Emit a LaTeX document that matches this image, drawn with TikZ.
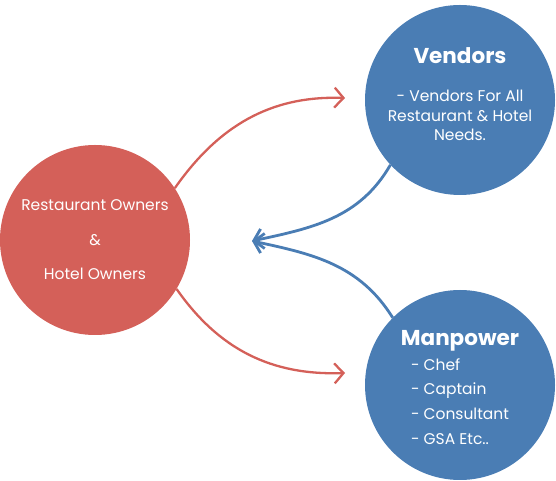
\documentclass[tikz,border=0pt]{standalone}
\usepackage{fontspec}
\setmainfont{Poppins}
\usetikzlibrary{arrows.meta}
\definecolor{ownerred}{RGB}{212,96,89}
\definecolor{vendorblue}{RGB}{74,125,180}

\begin{document}
\begin{tikzpicture}[x=1pt, y=1pt,
            bubble/.style={circle, minimum size=190pt, inner sep=0pt, text=white, align=center, font=\fontsize{15.5}{19.5}\selectfont},
            redarrow/.style={-{Straight Barb[length=9pt, width=20pt]}, line width=2.3pt, ownerred},
            bluearrow/.style={-{Straight Barb[length=9pt, width=20pt]}, line width=2.8pt, vendorblue}
        ]
            \useasboundingbox (0,0) rectangle (556,481);
            \node (owners) [bubble, fill=ownerred, font=\fontsize{15.5}{34.5}\selectfont] at (95,241) {Restaurant Owners\\ \&\\ Hotel Owners};
            \node (vendors) [bubble, fill=vendorblue, text depth=12pt] at (460,381) {{\fontsize{21.5}{24}\selectfont\bfseries Vendors}\\[19pt] - Vendors For All\\ Restaurant \& Hotel\\ Needs.};
            \node (manpower) [bubble, fill=vendorblue, font=\fontsize{15.5}{24.7}\selectfont, text depth=34pt] at (460,96) {{\fontsize{21.5}{24}\selectfont\bfseries Manpower}\\[1pt] \begin{tabular}{@{}l@{}}- Chef\\ - Captain\\ - Consultant\\ - GSA Etc..\end{tabular}};
            
            \coordinate (vendtip) at (345,383);
            \coordinate (mantip) at (345,108);
            \coordinate (ownertip) at (252,240);
            
            \draw [redarrow] (owners.33) to[out=55, in=178] (vendtip);
            \draw [redarrow] (owners.-31) to[out=-55, in=182] (mantip);
            \draw [bluearrow] (vendors.223) to[out=240, in=12] (ownertip);
            \draw [bluearrow] (manpower.135) to[out=122, in=-12] (ownertip);
        \end{tikzpicture}
\end{document}
